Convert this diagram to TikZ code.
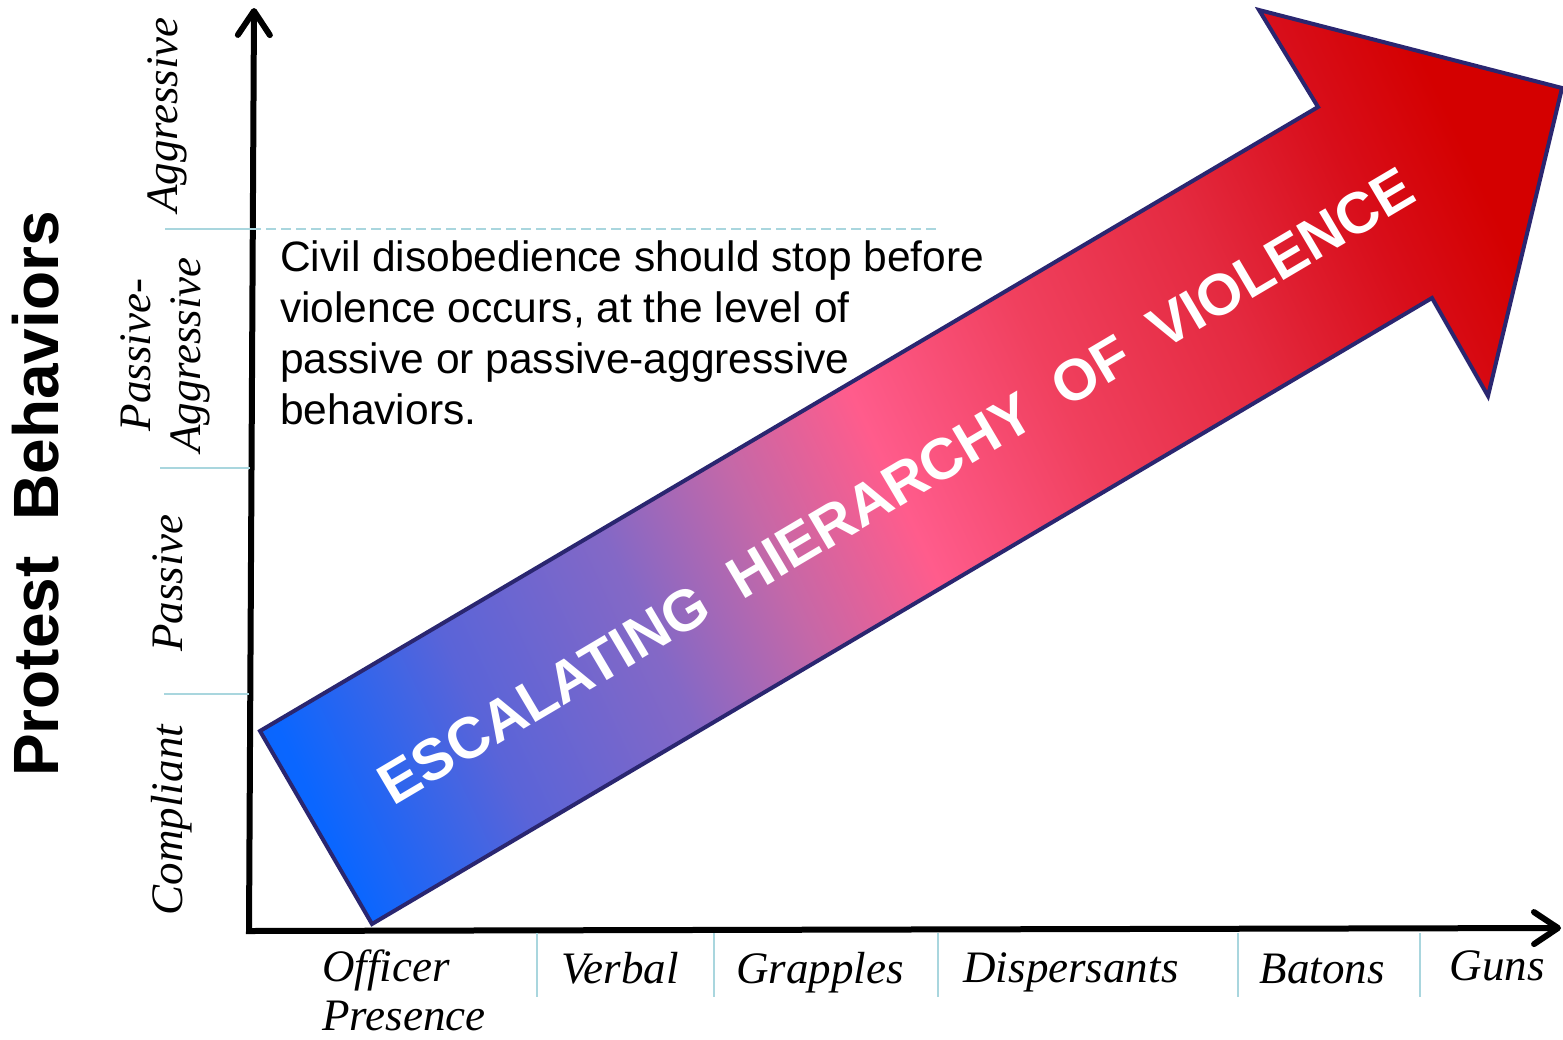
\documentclass[tikz,border=0pt]{standalone}
\usepackage{fontspec}
\setmainfont{Liberation Serif}
\setsansfont{Liberation Sans}
\usetikzlibrary{arrows.meta,positioning,calc}

\definecolor{guideblue}{HTML}{A9D6DE}
\definecolor{rim}{HTML}{2A2670}
\definecolor{escA}{HTML}{0050D8}
\definecolor{escB}{HTML}{0A66FF}
\definecolor{escC}{HTML}{5A64D8}
\definecolor{escD}{HTML}{8468C6}
\definecolor{escE}{HTML}{C468A8}
\definecolor{escF}{HTML}{FF5C8C}
\definecolor{escG}{HTML}{F0405E}
\definecolor{escH}{HTML}{E42A40}
\definecolor{escI}{HTML}{D80E1A}
\definecolor{escJ}{HTML}{D40000}
\pgfdeclarehorizontalshading{escalate}{100bp}{color(0bp)=(escA); color(21bp)=(escB);
  color(29bp)=(escC); color(37bp)=(escD); color(43bp)=(escE); color(49bp)=(escF);
  color(57bp)=(escG); color(65bp)=(escH); color(72bp)=(escI); color(77bp)=(escJ);
  color(100bp)=(escJ)}

\begin{document}
\begin{tikzpicture}[
  x=1pt,y=-1pt,
  axis/.style={line width=6pt,{Straight Barb[length=24pt,width=32pt,round]}-{Straight Barb[length=24pt,width=32pt,round]}},
  guide/.style={draw=guideblue,line width=2pt},
  cat/.style={font=\fontsize{45}{49}\selectfont\itshape,inner sep=0pt},
  ycat/.style={cat,rotate=90,anchor=base},
  xcat/.style={cat,anchor=base},
  note/.style={font=\sffamily\fontsize{42.5}{51}\selectfont,align=left,inner sep=0pt,anchor=north west},
  ladder/.style={shading=escalate,shading angle=25,draw=rim,line width=4pt},
  banner/.style={font=\sffamily\bfseries\fontsize{58}{58}\selectfont,text=white,rotate=30.6},
]
\useasboundingbox (0,0) rectangle (1563,1039);

% axes
\coordinate (origin) at (249,931);
\coordinate (ytip) at (254,8);
\coordinate (xtip) at (1561,928);
\draw[axis] (ytip) -- (origin) -- (xtip);

% level marks
\draw[guide] (165,229) -- (251,229);
\draw[guide,dash pattern=on 10pt off 5pt] (251,229) -- (940,229);
\draw[guide] (160,468) -- (250,468);
\draw[guide] (164,694) -- (249,694);
\foreach \x in {537,714,938,1238,1420}
  \draw[guide] (\x,933) -- (\x,997);

% the big arrow
\path[ladder] (260,731) -- (1318,107) -- (1259,10) -- (1562,88) -- (1488,396)
  -- (1432,298) -- (372,924) -- cycle;
\node[banner] (ehv) at (896,486) {ESCALATING\ \ HIERARCHY\ \ OF\ \ VIOLENCE};

% behaviours
\node[font=\sffamily\bfseries\fontsize{64}{64}\selectfont,rotate=90] (title) at (36,494) {Protest\ \ Behaviors};
\node[ycat] (aggr) at (177,115) {Aggressive};
\node[cat,rotate=90,align=center,font=\fontsize{45}{50}\selectfont\itshape] (pasaggr) at (165,355) {Passive-\\Aggressive};
\node[ycat] (pass) at (182,583) {Passive};
\node[ycat] (comp) at (182,820) {Compliant};

% force levels
\node[cat,align=left,anchor=north west] (officer) at (322,950) {Officer\\Presence};
\node[xcat] (verbal) at (620,983) {Verbal};
\node[xcat] (grap) at (820,983) {Grapples};
\node[xcat] (disp) at (1071,982) {Dispersants};
\node[xcat] (baton) at (1322,983) {Batons};
\node[xcat] (guns) at (1497,980) {Guns};

\node[note] (civil) at (280,240) {Civil disobedience should stop before\\violence occurs, at the level of\\passive or passive-aggressive\\behaviors.};
\end{tikzpicture}
\end{document}
